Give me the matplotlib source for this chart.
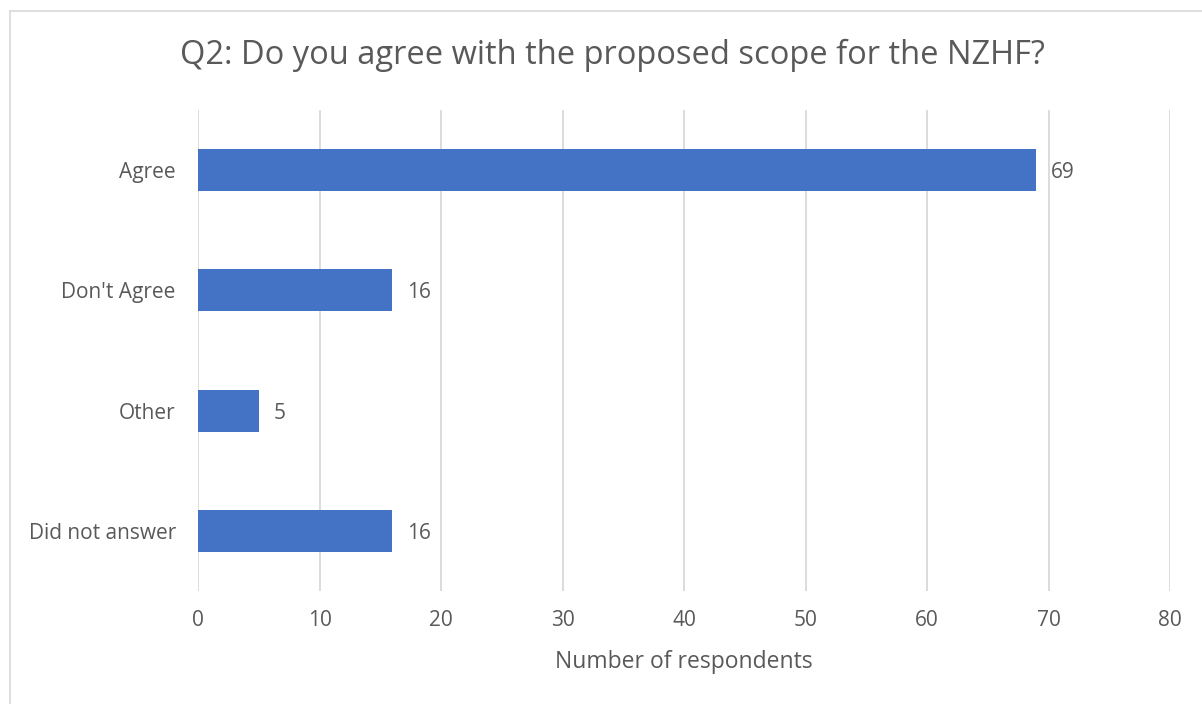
import matplotlib

matplotlib.use("Agg")
import matplotlib.pyplot as plt
from matplotlib.lines import Line2D

categories = ["Agree", "Don't Agree", "Other", "Did not answer"]
counts = [69, 16, 5, 16]
x_ticks = [0, 10, 20, 30, 40, 50, 60, 70, 80]

BAR_COLOR = "#4472C4"
TEXT_COLOR = "#595959"
GRID_COLOR = "#D9D9D9"

plt.rcParams["font.family"] = ["Open Sans", "DejaVu Sans"]

W, H = 1202, 704
fig = plt.figure(figsize=(W / 100, H / 100), dpi=100)
ax = fig.add_axes([198 / W, 1 - 591 / H, (1170 - 198) / W, (591 - 110) / H])

ypos = list(range(len(categories)))
ax.barh(ypos, counts, height=0.35, color=BAR_COLOR, zorder=3)
ax.set_ylim(len(categories) - 0.5, -0.5)
ax.set_xlim(0, 80)
ax.set_xticks(x_ticks)
ax.set_yticks(ypos)
ax.set_yticklabels(categories)

for y, v in zip(ypos, counts):
    ax.text(v + 1.2, y + 0.02, str(v), va="center", ha="left", fontsize=15, color=TEXT_COLOR)

ax.grid(axis="x", color=GRID_COLOR, linewidth=1.3, zorder=0)
for s in ax.spines.values():
    s.set_visible(False)
ax.tick_params(axis="both", length=0, labelsize=15, labelcolor=TEXT_COLOR)
ax.tick_params(axis="x", pad=14)
ax.tick_params(axis="y", pad=16)

ax.set_xlabel("Number of respondents", fontsize=16.5, color=TEXT_COLOR, labelpad=13)
fig.text(612 / W, 1 - 55 / H, "Q2: Do you agree with the proposed scope for the NZHF?",
         ha="center", va="center", fontsize=23.5, color=TEXT_COLOR)

# chart frame (left and top edges visible)
fig.add_artist(Line2D([10 / W, 10 / W], [0, 1 - 11 / H], transform=fig.transFigure,
                      color=GRID_COLOR, linewidth=1.2))
fig.add_artist(Line2D([10 / W, 1], [1 - 11 / H, 1 - 11 / H], transform=fig.transFigure,
                      color=GRID_COLOR, linewidth=1.2))

fig.savefig("out.png", dpi=100)
